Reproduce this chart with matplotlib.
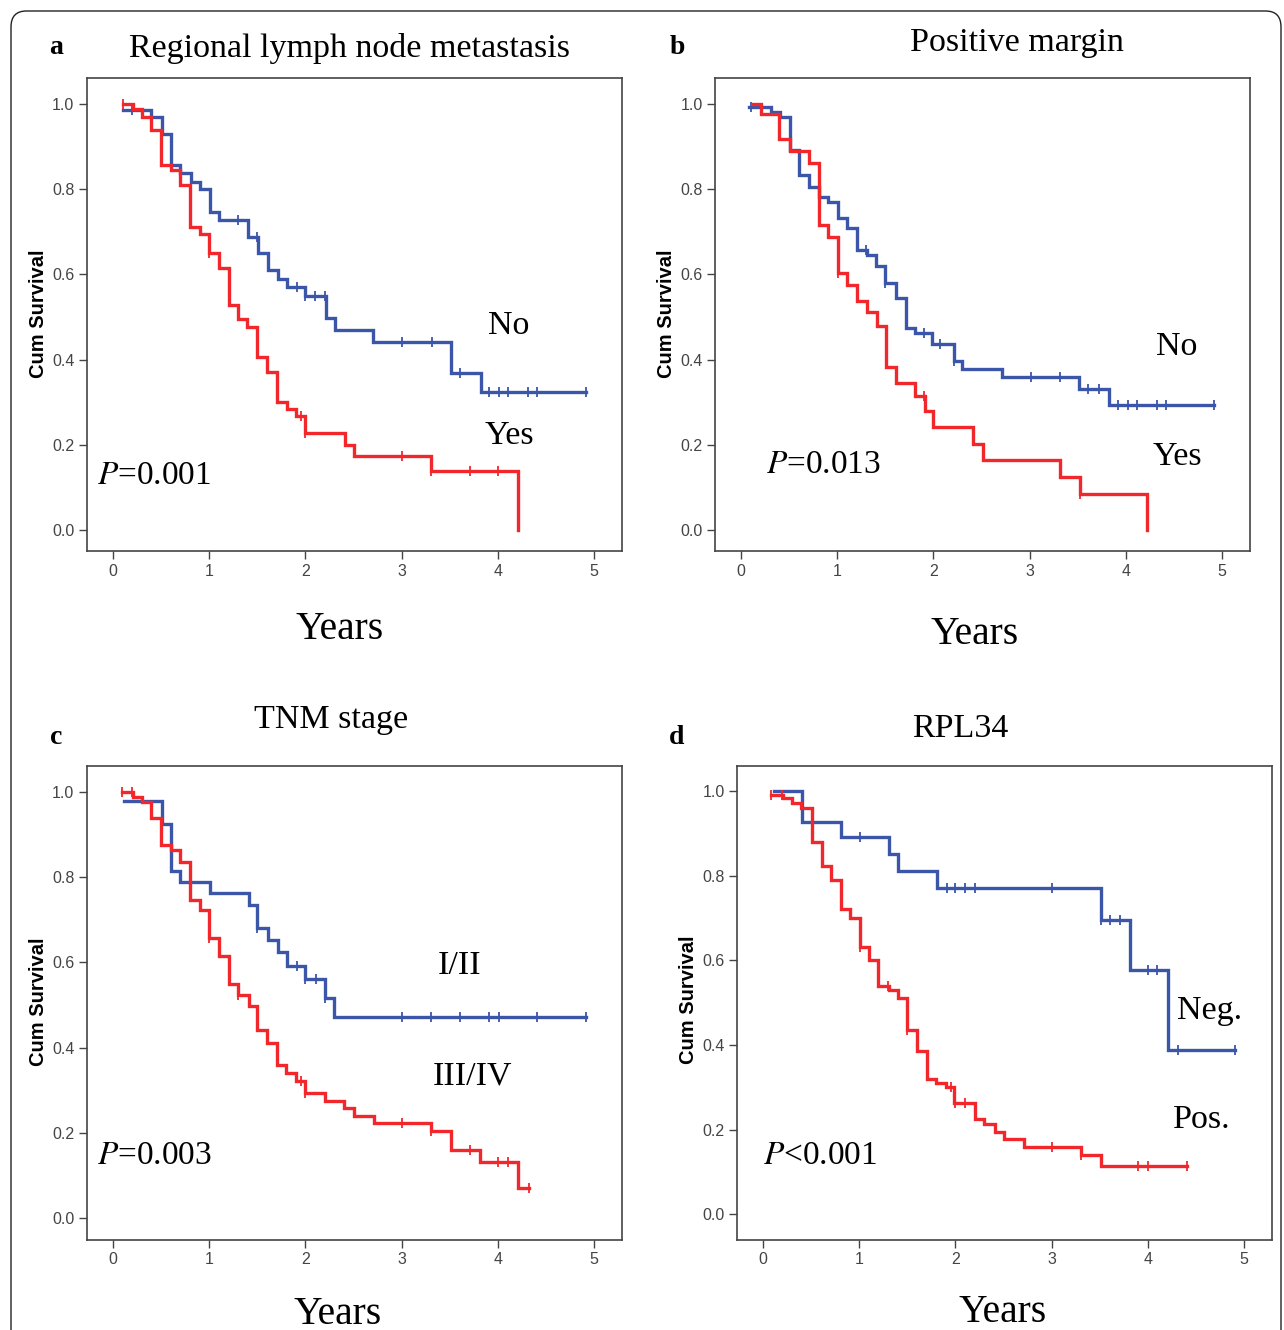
import numpy as np
import matplotlib.pyplot as plt
from matplotlib.patches import FancyBboxPatch

plt.rcParams['mathtext.fontset'] = 'stix'

W, H = 1284, 1330
BLUE = '#3b55a9'
RED = '#f2272c'

# ---- panel a: regional lymph node metastasis ----
a_no_t = [0.10, 0.40, 0.51, 0.60, 0.70, 0.81, 0.90, 1.01, 1.10, 1.40, 1.51, 1.61, 1.71, 1.81, 2.00, 2.21, 2.31, 2.70, 3.51, 3.82, 4.92]
a_no_s = [0.986, 0.970, 0.930, 0.857, 0.838, 0.817, 0.800, 0.746, 0.728, 0.688, 0.650, 0.610, 0.590, 0.570, 0.549, 0.498, 0.469, 0.441, 0.369, 0.324, 0.324]
a_no_c = [0.20, 1.30, 1.50, 1.91, 2.00, 2.10, 2.20, 3.00, 3.32, 3.61, 3.91, 4.01, 4.11, 4.31, 4.41, 4.92]
a_yes_t = [0.10, 0.21, 0.30, 0.40, 0.50, 0.60, 0.70, 0.80, 0.90, 1.00, 1.10, 1.21, 1.30, 1.39, 1.50, 1.60, 1.70, 1.81, 1.90, 2.00, 2.41, 2.50, 3.30, 4.21]
a_yes_s = [1.000, 0.988, 0.970, 0.939, 0.858, 0.845, 0.811, 0.712, 0.696, 0.650, 0.616, 0.528, 0.495, 0.477, 0.406, 0.371, 0.300, 0.284, 0.267, 0.228, 0.200, 0.174, 0.139, 0.0]
a_yes_c = [0.10, 1.00, 1.95, 2.00, 3.00, 3.31, 3.71, 4.00]

# ---- panel b: positive margin ----
b_no_t = [0.08, 0.31, 0.41, 0.51, 0.60, 0.71, 0.81, 0.90, 1.01, 1.10, 1.21, 1.31, 1.40, 1.50, 1.61, 1.71, 1.81, 1.98, 2.21, 2.30, 2.71, 3.51, 3.82, 4.92]
b_no_s = [0.992, 0.982, 0.969, 0.892, 0.833, 0.806, 0.782, 0.771, 0.733, 0.710, 0.657, 0.646, 0.620, 0.581, 0.544, 0.475, 0.462, 0.437, 0.397, 0.379, 0.360, 0.330, 0.293, 0.293]
b_no_c = [0.10, 1.30, 1.50, 1.90, 2.07, 2.21, 3.01, 3.32, 3.61, 3.72, 3.92, 4.02, 4.12, 4.32, 4.42, 4.92]
b_yes_t = [0.12, 0.21, 0.40, 0.51, 0.71, 0.81, 0.90, 1.01, 1.10, 1.21, 1.31, 1.41, 1.51, 1.61, 1.81, 1.91, 2.00, 2.41, 2.51, 3.32, 3.52, 4.22]
b_yes_s = [1.000, 0.976, 0.919, 0.890, 0.861, 0.716, 0.689, 0.604, 0.575, 0.538, 0.511, 0.479, 0.383, 0.345, 0.314, 0.280, 0.241, 0.202, 0.164, 0.125, 0.085, 0.0]
b_yes_c = [1.01, 1.90, 3.52]

# ---- panel c: TNM stage ----
c_i_t = [0.11, 0.51, 0.60, 0.70, 1.01, 1.41, 1.50, 1.61, 1.71, 1.81, 2.00, 2.20, 2.30, 4.92]
c_i_s = [0.978, 0.925, 0.814, 0.788, 0.762, 0.735, 0.680, 0.653, 0.625, 0.592, 0.561, 0.516, 0.471, 0.471]
c_i_c = [1.50, 1.91, 2.00, 2.11, 2.20, 3.00, 3.31, 3.61, 3.91, 4.01, 4.41, 4.92]
c_iii_t = [0.09, 0.21, 0.30, 0.40, 0.50, 0.60, 0.70, 0.80, 0.90, 1.00, 1.10, 1.21, 1.30, 1.41, 1.50, 1.60, 1.70, 1.80, 1.90, 2.00, 2.20, 2.40, 2.50, 2.71, 3.31, 3.51, 3.81, 4.21, 4.32]
c_iii_s = [1.000, 0.988, 0.977, 0.938, 0.875, 0.863, 0.836, 0.747, 0.722, 0.658, 0.616, 0.548, 0.524, 0.497, 0.440, 0.410, 0.360, 0.340, 0.322, 0.293, 0.275, 0.257, 0.240, 0.222, 0.203, 0.160, 0.130, 0.070, 0.070]
c_iii_c = [0.09, 0.20, 1.00, 1.30, 1.95, 2.00, 3.00, 3.31, 3.71, 4.00, 4.11, 4.32]

# ---- panel d: RPL34 ----
d_neg_t = [0.11, 0.41, 0.81, 1.31, 1.40, 1.81, 3.51, 3.81, 4.21, 4.91]
d_neg_s = [1.000, 0.927, 0.892, 0.850, 0.811, 0.770, 0.695, 0.578, 0.388, 0.388]
d_neg_c = [1.01, 1.91, 2.00, 2.10, 2.20, 3.00, 3.51, 3.61, 3.71, 4.00, 4.10, 4.31, 4.91]
d_pos_t = [0.08, 0.21, 0.30, 0.40, 0.51, 0.61, 0.71, 0.81, 0.90, 1.01, 1.10, 1.20, 1.31, 1.40, 1.50, 1.60, 1.70, 1.80, 1.90, 1.99, 2.20, 2.30, 2.41, 2.50, 2.71, 3.30, 3.51, 4.41]
d_pos_s = [0.990, 0.984, 0.971, 0.959, 0.879, 0.823, 0.790, 0.721, 0.699, 0.632, 0.600, 0.540, 0.530, 0.511, 0.435, 0.385, 0.320, 0.310, 0.300, 0.263, 0.226, 0.213, 0.195, 0.177, 0.159, 0.139, 0.113, 0.113]
d_pos_c = [0.08, 0.20, 1.01, 1.30, 1.50, 1.95, 2.00, 2.10, 3.00, 3.30, 3.90, 4.00, 4.41]

panels = [
    dict(letter='a', title='Regional lymph node metastasis', box=(87, 78, 622, 551),
         ylim=(-0.049, 1.061), curves=[(a_no_t, a_no_s, a_no_c, BLUE), (a_yes_t, a_yes_s, a_yes_c, RED)],
         labels=[('No', 509, 326), ('Yes', 509, 436)], p=(r'$P$=0.001', 97, 476),
         letter_xy=(56, 47), title_xy=(350, 49), years_xy=(340, 630), cum_xy=(39, 314)),
    dict(letter='b', title='Positive margin', box=(715, 78, 1250, 551),
         ylim=(-0.049, 1.061), curves=[(b_no_t, b_no_s, b_no_c, BLUE), (b_yes_t, b_yes_s, b_yes_c, RED)],
         labels=[('No', 1177, 347), ('Yes', 1177, 457)], p=(r'$P$=0.013', 766, 465),
         letter_xy=(677, 47), title_xy=(1017, 43), years_xy=(975, 634), cum_xy=(667, 314)),
    dict(letter='c', title='TNM stage', box=(87, 766, 622, 1240),
         ylim=(-0.052, 1.061), curves=[(c_i_t, c_i_s, c_i_c, BLUE), (c_iii_t, c_iii_s, c_iii_c, RED)],
         labels=[('I/II', 460, 966), ('III/IV', 473, 1076)], p=(r'$P$=0.003', 97, 1156),
         letter_xy=(56, 737), title_xy=(331, 720), years_xy=(338, 1315), cum_xy=(39, 1002)),
    dict(letter='d', title='RPL34', box=(737, 766, 1272, 1240),
         ylim=(-0.061, 1.059), curves=[(d_neg_t, d_neg_s, d_neg_c, BLUE), (d_pos_t, d_pos_s, d_pos_c, RED)],
         labels=[('Neg.', 1210, 1011), ('Pos.', 1202, 1120)], p=(r'$P$<0.001', 763, 1156),
         letter_xy=(677, 737), title_xy=(960, 729), years_xy=(1003, 1312), cum_xy=(689, 1000)),
]


def fx(x):
    return x / W


def fy(y):
    return 1 - y / H


fig = plt.figure(figsize=(W / 100, H / 100), dpi=100)
fig.patch.set_facecolor('white')

frame = FancyBboxPatch((fx(11), fy(1400)), fx(1270), (1400 - 11) / H,
                       boxstyle='round,pad=0,rounding_size=0.012', transform=fig.transFigure,
                       fill=False, ec='#222222', lw=1.0)
fig.patches.append(frame)

serif = 'Liberation Serif'
sans = ['Liberation Sans', 'DejaVu Sans']

for pn in panels:
    l, t, r, b = pn['box']
    ax = fig.add_axes([fx(l), fy(b), (r - l) / W, (b - t) / H])
    for times, surv, cens, col in pn['curves']:
        ax.step(times, surv, where='post', color=col, lw=2.4, solid_joinstyle='miter')
        idx = np.searchsorted(times, cens, side='right') - 1
        cy = np.array(surv)[np.clip(idx, 0, len(surv) - 1)]
        ax.plot(cens, cy, ls='none', marker='|', ms=7, mew=1.3, color=col)
    ax.set_xlim(-0.27, 5.29)
    ax.set_ylim(*pn['ylim'])
    ax.set_xticks(range(6))
    ax.set_yticks([0, 0.2, 0.4, 0.6, 0.8, 1.0])
    ax.set_yticklabels(['0.0', '0.2', '0.4', '0.6', '0.8', '1.0'])
    ax.tick_params(direction='out', length=6, width=1, colors='#444444', labelsize=11.5, pad=3)
    for lab in ax.get_xticklabels() + ax.get_yticklabels():
        lab.set_family(sans)
        lab.set_stretch('condensed')
    for sp in ax.spines.values():
        sp.set_color('#444444')
        sp.set_linewidth(1.2)

    fig.text(fx(pn['letter_xy'][0]), fy(pn['letter_xy'][1]), pn['letter'], family=serif,
             fontweight='bold', fontsize=20, ha='center', va='center')
    fig.text(fx(pn['title_xy'][0]), fy(pn['title_xy'][1]), pn['title'], family=serif,
             fontsize=24.5, ha='center', va='center')
    fig.text(fx(pn['years_xy'][0]), fy(pn['years_xy'][1]), 'Years', family=serif,
             fontsize=28.5, ha='center', va='center')
    fig.text(fx(pn['cum_xy'][0]), fy(pn['cum_xy'][1]), 'Cum Survival', family=sans,
             fontweight='bold', fontsize=14.5, rotation=90, ha='center', va='center')
    for txt, x, y in pn['labels']:
        fig.text(fx(x), fy(y), txt, family=serif, fontsize=24.5, ha='center', va='center')
    ptxt, px_, py_ = pn['p']
    fig.text(fx(px_), fy(py_), ptxt, family=serif, fontsize=24, ha='left', va='center')

fig.savefig('out.png', dpi=100, facecolor='white')
